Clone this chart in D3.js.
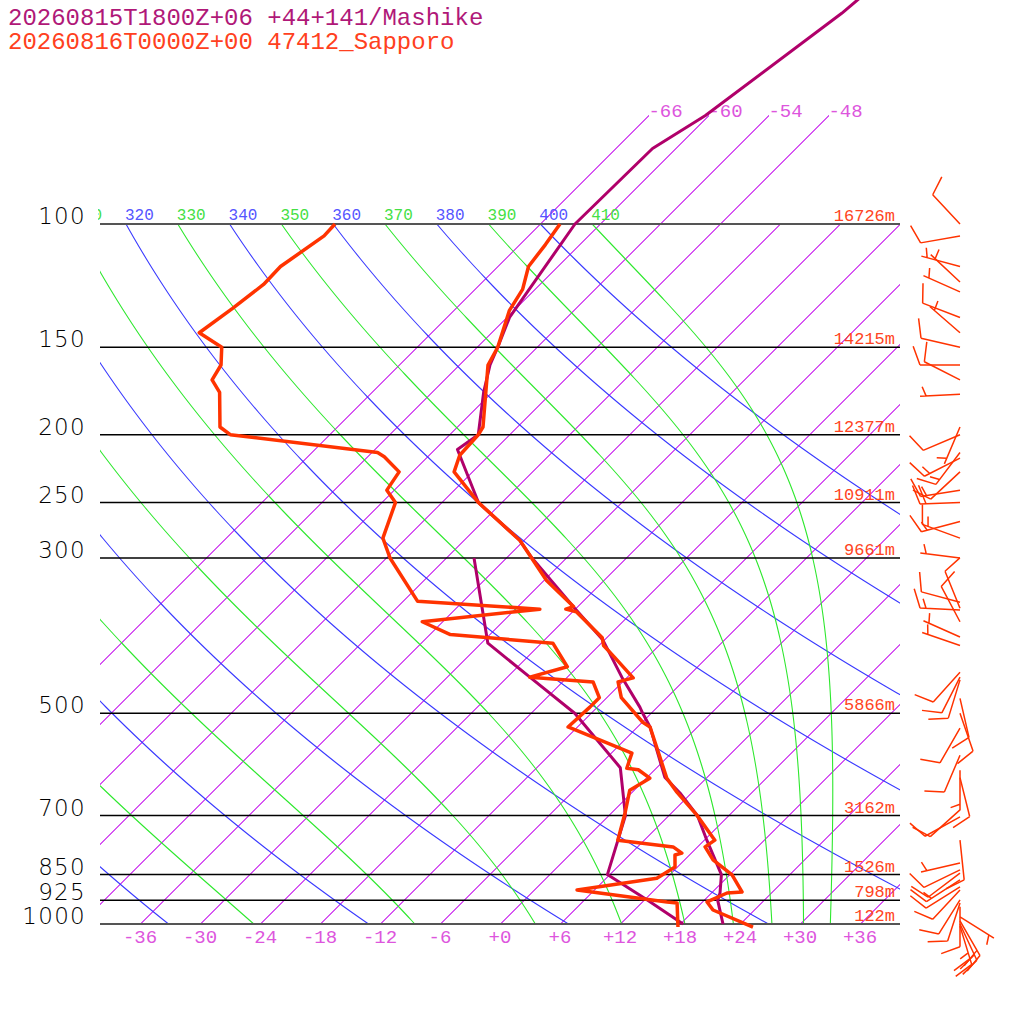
<!DOCTYPE html>
<html>
<head>
<meta charset="utf-8">
<script src="https://cdn.jsdelivr.net/npm/d3@7"></script>
<style>
  body { margin: 0; background: #fff; }
  svg text { font-family: "Liberation Mono", monospace; }
</style>
</head>
<body>
<div id="chart"></div>
<script>
// header
const titleMashike = '20260815T1800Z+06 +44+141/Mashike';
const titleSapporo = '20260816T0000Z+00 47412_Sapporo';

// isobars and their heights (Sapporo)
const levels = [100, 150, 200, 250, 300, 500, 700, 850, 925, 1000];
const heights = [16726, 14215, 12377, 10911, 9661, 5866, 3162, 1526, 798, 122];

// background lines
const tempTicks = d3.range(-36, 37, 6);
const isotherms = d3.range(-66, 37, 6);
const isothermsTop = [-66, -60, -54, -48];
const dryThetas = d3.range(200, 401, 20);
const moistThetas = d3.range(210, 411, 20);

// Mashike forecast
const mashP = [30, 50, 70, 78, 100, 136, 150, 159, 174, 200, 210, 250, 283, 300, 354, 393, 444, 490, 500, 523, 617, 650, 700, 759, 850, 903, 925, 1000];
const mashT = [-54.0, -56.9, -60.3, -62.3, -62.5, -59.7, -57.9, -56.9, -54.8, -51.1, -51.7, -44.3, -36.4, -33.4, -24.1, -18.1, -12.5, -7.7, -6.8, -4.7, 1.8, 4.9, 8.9, 12.3, 17.2, 18.9, 19.4, 22.3];
const mashTdP = [300, 397, 444, 500, 598, 700, 850, 925, 1000];
const mashTd = [-39.2, -29.3, -21.7, -13.6, -3.6, 1.7, 5.8, 12.4, 18.3];

// Sapporo sounding
const sapP = [100, 107, 115, 124, 133, 150, 159, 195, 200, 214, 226, 250, 283, 323, 352, 355, 358, 390, 400, 416, 445, 451, 475, 515, 523, 619, 648, 699, 759, 776, 810, 851, 900, 903, 930, 955, 1010];
const sapT = [-64.0, -63.4, -62.9, -61.2, -60.4, -57.9, -57.1, -51.4, -51.1, -50.9, -49.8, -44.3, -36.4, -29.7, -24.4, -24.9, -23.6, -18.4, -17.5, -15.2, -11.3, -12.4, -10.5, -5.9, -4.7, 2.1, 4.5, 8.8, 13.1, 12.8, 14.9, 18.3, 21.0, 19.6, 18.5, 19.9, 25.6];
const sapTdP = [100, 104, 115, 122, 132, 143, 150, 159, 167, 174, 195, 200, 212, 215, 226, 240, 250, 281, 300, 346, 355, 370, 386, 397, 429, 444, 451, 475, 490, 523, 570, 599, 602, 619, 644, 694, 759, 776, 792, 797, 829, 860, 894, 930, 933, 1010];
const sapTd = [-86.5, -86.4, -87.7, -87.6, -88.3, -89.2, -85.5, -83.8, -83.2, -81.2, -77.7, -75.9, -59.4, -58.3, -55.3, -54.7, -52.6, -50.3, -47.6, -40.5, -27.5, -38.0, -33.9, -22.8, -19.0, -21.7, -14.9, -12.7, -12.7, -12.9, -3.9, -2.9, -1.6, 0.4, -0.4, 1.4, 3.4, 9.6, 11.1, 10.6, 11.8, 11.1, 4.3, 14.5, 15.6, 18.1];

// Sapporo winds (direction deg, speed kt)
const windP = [100, 104, 115, 121, 125, 136, 143, 150, 159, 167, 175, 195, 200, 212, 216, 226, 240, 250, 266, 281, 300, 347, 354, 356, 370, 389, 400, 437, 444, 448, 476, 500, 525, 574, 603, 618, 687, 703, 759, 818, 837, 846, 865, 885, 894, 924, 933, 945, 977, 990, 1000, 1007];
const windDir = [317, 260, 285, 313, 294, 291, 311, 283, 270, 297, 267, 203, 247, 217, 243, 227, 261, 268, 255, 290, 277, 285, 338, 273, 332, 294, 289, 222, 207, 197, 167, 161, 210, 203, 180, 166, 228, 241, 174, 257, 244, 233, 237, 238, 223, 212, 198, 180, 122, 150, 155, 163];
const windSpd = [10, 10, 5, 5, 5, 10, 5, 10, 10, 10, 5, 5, 10, 15, 15, 10, 15, 20, 15, 15, 5, 10, 10, 15, 10, 5, 5, 10, 10, 10, 10, 10, 10, 10, 5, 10, 10, 10, 10, 5, 10, 10, 15, 10, 10, 10, 10, 10, 5, 20, 20, 25];

const purple = '#b0006a';
const red = '#ff3300';
const isoColor = '#d658f2';
const dryColor = '#3a3aff';
const moistColor = '#2ee82e';

const svg = d3.select('#chart').append('svg')
    .attr('width', 1024)
    .attr('height', 1024);

const y = d3.scaleLog().domain([1000, 100]).range([924, 224]);
const xT = d3.scaleLinear().domain([-40, 40]).range([100, 900]);

function skewX(t, p) {
    return xT(t) + (y(1000) - y(p));
}

const line = d3.line().x(d => skewX(d[0], d[1])).y(d => y(d[1]));

// thermodynamics for the adiabats
const kappa = 0.2857;
function moistLapse(T, p) {
    const Rd = 287.04, Cp = 1005.7, Lv = 2.501e6, eps = 0.622;
    const Tc = T - 273.15;
    const es = 6.112 * Math.exp(17.67 * Tc / (Tc + 243.5));
    const rs = eps * es / (p - es);
    return (Rd * T + Lv * rs) / (Cp + Lv * Lv * rs * eps / (Rd * T * T));
}

function dryCurve(theta) {
    return d3.range(0, 101).map(i => {
        const p = 100 * Math.pow(10, i / 100);
        return [theta * Math.pow(p / 1000, kappa) - 273.15, p];
    });
}

function moistCurve(theta) {
    const n = 200;
    let lnp = Math.log(100);
    const h = (Math.log(1000) - lnp) / n;
    let T = theta * Math.pow(0.1, kappa);
    const pts = [[T - 273.15, 100]];
    for (let i = 0; i < n; i++) {
        const k1 = moistLapse(T, Math.exp(lnp));
        const k2 = moistLapse(T + h * k1, Math.exp(lnp + h));
        T += h * (k1 + k2) / 2;
        lnp += h;
        pts.push([T - 273.15, Math.exp(lnp)]);
    }
    return pts;
}

// x of a theta line where it meets 100 hPa
function thetaX(th) {
    return skewX(th * Math.pow(0.1, kappa) - 273.15, 100);
}

const defs = svg.append('defs');
defs.append('clipPath').attr('id', 'plotClip')
    .append('rect').attr('x', 100).attr('y', 224).attr('width', 800).attr('height', 700);
defs.append('clipPath').attr('id', 'labelClip')
    .append('rect').attr('x', 98).attr('y', 0).attr('width', 926).attr('height', 1024);

const grid = svg.append('g').attr('clip-path', 'url(#plotClip)');

// isotherms, 1000 hPa up to 100 hPa (nudged a hair off 45 degrees, exact 45 renders dark)
grid.selectAll('line.iso')
    .data(isotherms)
    .enter().append('line')
    .attr('class', 'iso')
    .attr('x1', t => skewX(t, 1000) + 0.5)
    .attr('y1', y(1000))
    .attr('x2', t => skewX(t, 100) + 0.5)
    .attr('y2', y(100) - 0.3)
    .attr('stroke', isoColor)
    .attr('stroke-width', 1.2)
    .attr('shape-rendering', 'crispEdges');

// dry adiabats
grid.selectAll('path.dry')
    .data(dryThetas)
    .enter().append('path')
    .attr('class', 'dry')
    .attr('d', th => line(dryCurve(th)))
    .attr('stroke', dryColor)
    .attr('stroke-width', 1.1)
    .attr('fill', 'none');

// moist adiabats
grid.selectAll('path.moist')
    .data(moistThetas)
    .enter().append('path')
    .attr('class', 'moist')
    .attr('d', th => line(moistCurve(th)))
    .attr('stroke', moistColor)
    .attr('stroke-width', 1.1)
    .attr('fill', 'none');

// isotherms above 100 hPa
svg.selectAll('line.isoTop')
    .data(isothermsTop)
    .enter().append('line')
    .attr('class', 'isoTop')
    .attr('x1', t => skewX(t, 100) + 0.5)
    .attr('y1', y(100))
    .attr('x2', t => skewX(t, 70) + 0.5)
    .attr('y2', y(70) - 0.3)
    .attr('stroke', isoColor)
    .attr('stroke-width', 1.2)
    .attr('shape-rendering', 'crispEdges');

svg.selectAll('text.isoTopLabel')
    .data(isothermsTop)
    .enter().append('text')
    .attr('class', 'isoTopLabel')
    .attr('x', t => skewX(t, 70))
    .attr('y', y(70) + 1)
    .attr('font-size', 19)
    .attr('fill', '#dd55dd')
    .text(t => t);

// theta labels at 100 hPa (only those reaching into the plot)
const thetaLabels = svg.append('g').attr('clip-path', 'url(#labelClip)');
thetaLabels.selectAll('text.dryLabel')
    .data(dryThetas.filter(th => thetaX(th) > 60))
    .enter().append('text')
    .attr('class', 'dryLabel')
    .attr('x', th => thetaX(th) - 1)
    .attr('y', 220)
    .attr('font-size', 16)
    .attr('fill', '#5555ff')
    .text(th => th);
thetaLabels.selectAll('text.moistLabel')
    .data(moistThetas.filter(th => thetaX(th) > 60))
    .enter().append('text')
    .attr('class', 'moistLabel')
    .attr('x', th => thetaX(th) - 1)
    .attr('y', 220)
    .attr('font-size', 16)
    .attr('fill', '#44e044')
    .text(th => th);

// isobars
svg.selectAll('line.isobar')
    .data(levels)
    .enter().append('line')
    .attr('class', 'isobar')
    .attr('x1', 100).attr('x2', 900)
    .attr('y1', p => y(p)).attr('y2', p => y(p))
    .attr('stroke', p => (p === 100 || p === 1000) ? '#555' : '#000')
    .attr('stroke-width', p => (p === 100 || p === 1000) ? 2 : 1.5);

svg.selectAll('text.pLabel')
    .data(levels)
    .enter().append('text')
    .attr('class', 'pLabel')
    .attr('x', 86)
    .attr('y', p => y(p))
    .attr('text-anchor', 'end')
    .attr('font-size', 23)
    .style('font-family', '"DejaVu Sans", sans-serif')
    .style('font-weight', 200)
    .style('letter-spacing', '1.3px')
    .attr('fill', '#000')
    .text(p => p);

svg.selectAll('text.hLabel')
    .data(levels)
    .enter().append('text')
    .attr('class', 'hLabel')
    .attr('x', 895)
    .attr('y', p => y(p) - 3)
    .attr('text-anchor', 'end')
    .attr('font-size', 17)
    .attr('fill', '#ff4422')
    .text((p, i) => heights[i] + 'm');

// temperature axis
svg.selectAll('text.tLabel')
    .data(tempTicks)
    .enter().append('text')
    .attr('class', 'tLabel')
    .attr('x', t => xT(t))
    .attr('y', 943)
    .attr('text-anchor', 'middle')
    .attr('font-size', 19)
    .attr('fill', '#dd55dd')
    .text(t => (t >= 0 ? '+' : '-') + Math.abs(t));

// profiles
function profile(ps, ts) {
    return ps.map((p, i) => [ts[i], p]);
}

[[mashP, mashT], [mashTdP, mashTd]].forEach(([ps, ts]) => {
    svg.append('path')
        .attr('d', line(profile(ps, ts)))
        .attr('fill', 'none')
        .attr('stroke', purple)
        .attr('stroke-width', 3)
        .attr('stroke-linejoin', 'round');
});

[[sapP, sapT], [sapTdP, sapTd]].forEach(([ps, ts]) => {
    svg.append('path')
        .attr('d', line(profile(ps, ts)))
        .attr('fill', 'none')
        .attr('stroke', red)
        .attr('stroke-width', 3.5)
        .attr('stroke-linejoin', 'round');
});

// wind barbs
function barbPath(p, dir, spd, x0) {
    const y0 = y(p);
    const r = dir * Math.PI / 180;
    const ux = Math.sin(r), uy = -Math.cos(r);
    const a = 70 * Math.PI / 180;
    const bx = ux * Math.cos(a) - uy * Math.sin(a);
    const by = ux * Math.sin(a) + uy * Math.cos(a);
    const L = 40, B = 20, step = 6;
    let d = `M${x0},${y0}L${x0 + ux * L},${y0 + uy * L}`;
    let s = Math.round(spd / 5) * 5;
    let pos = L;
    while (s >= 10) {
        const px = x0 + ux * pos, py = y0 + uy * pos;
        d += `M${px},${py}L${px + bx * B},${py + by * B}`;
        pos -= step;
        s -= 10;
    }
    if (s >= 5) {
        if (pos === L) pos -= step;
        const px = x0 + ux * pos, py = y0 + uy * pos;
        d += `M${px},${py}L${px + bx * B / 2},${py + by * B / 2}`;
    }
    return d;
}

svg.selectAll('path.barb')
    .data(windP)
    .enter().append('path')
    .attr('class', 'barb')
    .attr('d', (p, i) => barbPath(p, windDir[i], windSpd[i], 960))
    .attr('fill', 'none')
    .attr('stroke', red)
    .attr('stroke-width', 1.5);

// header
svg.append('text').attr('x', 8).attr('y', 25)
    .attr('font-size', 24).attr('fill', '#b01878').text(titleMashike);
svg.append('text').attr('x', 8).attr('y', 49)
    .attr('font-size', 24).attr('fill', '#ff4020').text(titleSapporo);
</script>
</body>
</html>
